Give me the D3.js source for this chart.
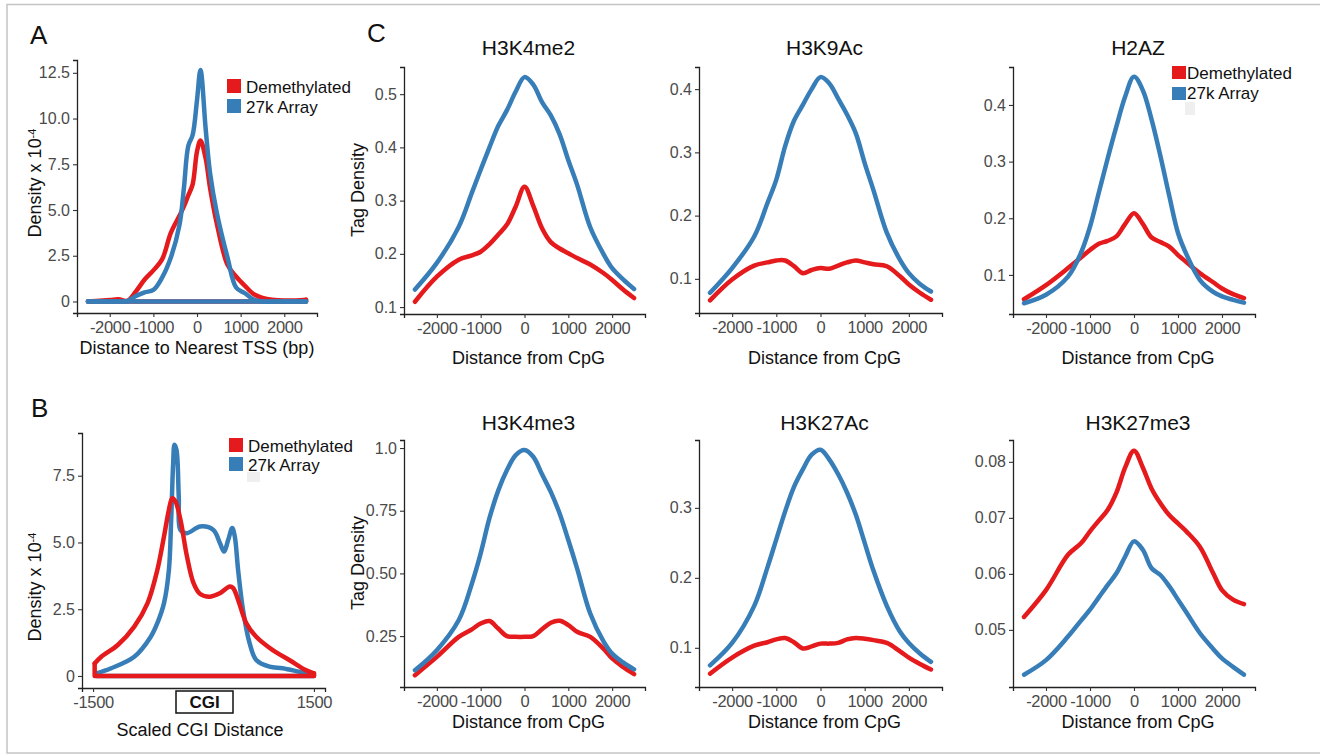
<!DOCTYPE html>
<html lang="en">
<head>
<meta charset="UTF-8">
<title>Density plots</title>
<script src="https://cdn.jsdelivr.net/npm/d3@7"></script>
<style>
  body { margin: 0; background: #fff; }
  svg text { font-family: "Liberation Sans", Arial, sans-serif; }
</style>
</head>
<body>
<svg id="fig" width="1320" height="755"></svg>
<script>
const red = "#e41a1c", blue = "#377eb8";
const seriesNames = ["Demethylated", "27k Array"];

// panel A - distance to nearest TSS
const tssDist   = [-2500,-2000,-1800,-1600,-1400,-1200,-1000,-800,-600,-400,-300,-200,-100,0,80,200,300,450,700,900,1100,1300,1500,2000,2500];
const tssDemeth = [0,0.08,0.12,0.03,0.55,1.2,1.7,2.3,3.75,4.7,5.2,5.8,6.4,8.2,8.8,7.8,6.2,4.3,2.0,1.35,0.85,0.4,0.2,0.05,0.1];
const tss27k    = [0,0,0,0.02,0.3,0.5,0.63,1.3,2.4,4.2,6.2,8.5,9.1,11.0,12.65,9.4,7.0,4.9,2.4,0.75,0.45,0.1,0,0,0];
const tssTicksY = [0,2.5,5,7.5,10,12.5];
const tssLabelsY = ["0","2.5","5.0","7.5","10.0","12.5"];

// panel B - scaled CGI distance
const cgiDist27k = [-1455,-1254,-940,-716,-627,-537,-470,-439,-412,-394,-367,-336,-313,-224,-45,134,224,278,336,390,425,470,537,627,716,896,1075,1299,1500];
const cgi27k     = [0.1,0.29,0.72,1.47,1.98,2.72,3.97,5.85,7.97,8.66,8.47,6.72,5.47,5.35,5.6,5.47,4.97,4.66,5.1,5.54,5.22,3.97,2.47,1.22,0.6,0.35,0.29,0.16,0.04];
const cgiDistDemeth = [-1478,-1388,-1164,-940,-761,-627,-537,-470,-425,-381,-313,-224,-134,-45,90,224,358,403,470,582,716,940,1164,1388,1500];
const cgiDemeth     = [0.47,0.72,1.16,1.85,2.72,3.97,5.22,6.22,6.66,6.54,5.85,4.47,3.47,3.07,2.97,3.1,3.35,3.29,2.85,1.97,1.47,0.97,0.6,0.22,0.1];
const cgiTicksY = [0,2.5,5,7.5];
const cgiLabelsY = ["0","2.5","5.0","7.5"];
const cgiTicksX = [-1500,1500];

// panel C - tag density around CpG
const cpgDist = [-2500,-2000,-1500,-1200,-1000,-800,-600,-400,-200,0,200,400,600,800,1000,1200,1500,1800,2000,2250,2500];
const cpgTicksX = [-2000,-1000,0,1000,2000];
const h3k4me2Demeth = [.11,.157,.189,.197,.204,.218,.236,.255,.289,.326,.29,.248,.222,.21,.201,.192,.18,.164,.151,.133,.117];
const h3k4me2Array  = [.133,.183,.251,.315,.358,.40,.44,.47,.505,.532,.518,.485,.46,.425,.376,.33,.25,.20,.173,.152,.134];
const h3k9acDemeth  = [.066,.099,.121,.126,.129,.129,.12,.109,.114,.117,.116,.121,.126,.129,.126,.123,.12,.104,.091,.078,.067];
const h3k9acArray   = [.078,.117,.167,.22,.257,.31,.35,.375,.40,.419,.409,.385,.36,.33,.283,.24,.173,.13,.109,.092,.08];
const h2azDemeth    = [.057,.082,.112,.131,.144,.155,.16,.168,.19,.209,.19,.166,.158,.15,.135,.122,.103,.087,.076,.066,.059];
const h2azArray     = [.05,.065,.097,.14,.185,.245,.305,.362,.415,.45,.426,.374,.31,.24,.174,.135,.091,.07,.062,.056,.051];
const h3k4me3Demeth = [.094,.167,.247,.277,.30,.31,.28,.25,.247,.247,.25,.277,.303,.311,.294,.267,.247,.20,.161,.127,.098];
const h3k4me3Array  = [.114,.194,.314,.46,.58,.72,.83,.912,.972,.992,.965,.895,.825,.74,.633,.52,.34,.23,.18,.145,.117];
const h3k27acDemeth = [.063,.086,.103,.108,.112,.114,.108,.099,.102,.106,.106,.107,.112,.114,.113,.111,.107,.095,.086,.077,.069];
const h3k27acArray  = [.075,.107,.16,.215,.255,.295,.33,.355,.376,.383,.369,.348,.322,.29,.25,.21,.16,.123,.107,.092,.08];
const h3k27me3Demeth = [.0523,.0571,.0634,.0655,.0676,.0695,.0714,.0745,.079,.082,.079,.0752,.0726,.0705,.069,.0675,.0648,.0601,.0571,.0554,.0546];
const h3k27me3Array  = [.042,.0446,.0488,.0517,.0536,.0558,.058,.0601,.0631,.0658,.0643,.061,.0598,.0578,.0554,.053,.0494,.0466,.0449,.0434,.042];

const svg = d3.select("#fig");

// grey frame round the figure
svg.append("rect").attr("x", 7).attr("y", 4.5).attr("width", 1330).attr("height", 748.5)
   .attr("fill", "none").attr("stroke", "#c4c4c4").attr("stroke-width", 1.5);

function zip(xs, ys) { return xs.map((x, i) => [x, ys[i]]); }

function makeAxes(p) {
  const x = d3.scaleLinear().domain(p.xDomain).range([p.left, p.right]);
  const y = d3.scaleLinear().domain(p.yDomain).range([p.bottom, p.top]);
  const fmt = (labels, ticks) => (d) => labels[ticks.indexOf(d)];

  const gx = svg.append("g").attr("transform", `translate(0,${p.bottom})`)
    .call(d3.axisBottom(x).tickValues(p.xTicks).tickSizeOuter(0).tickSize(4).tickPadding(4)
      .tickFormat(d => String(d)));   // plain hyphen, like the original
  const gy = svg.append("g").attr("transform", `translate(${p.left},0)`)
    .call(d3.axisLeft(y).tickValues(p.yTicks).tickSizeOuter(0).tickSize(4).tickPadding(3)
      .tickFormat(fmt(p.yLabels, p.yTicks)));

  [gx, gy].forEach(g => {
    g.attr("font-family", null).attr("font-size", null);
    g.select(".domain").attr("stroke", "#222").attr("stroke-width", 1.3);
    g.selectAll(".tick line").attr("stroke", "#333").attr("stroke-width", 1.1);
    g.selectAll(".tick text").attr("fill", "#4a4a4a").style("font-size", "16px");
  });
  gx.selectAll(".tick text").style("font-size", "16.5px").style("letter-spacing", "-0.3px");
  return { x, y };
}

const curve = d3.line().curve(d3.curveCatmullRom.alpha(0.5));

function drawCurve(s, pts, color, closed) {
  const xy = pts.map(d => [s.x(d[0]), s.y(d[1])]);
  svg.append("path").attr("d", curve(xy)).attr("fill", "none")
     .attr("stroke", color).attr("stroke-width", 4.5).attr("stroke-linejoin", "round").attr("stroke-linecap", "round");
  if (closed) {
    const a = pts[0], b = pts[pts.length - 1];
    const base = [[a[0], a[1]], [a[0], 0], [b[0], 0], [b[0], b[1]]].map(d => [s.x(d[0]), s.y(d[1])]);
    svg.append("path").attr("d", d3.line()(base)).attr("fill", "none")
       .attr("stroke", color).attr("stroke-width", 4.5).attr("stroke-linejoin", "round").attr("stroke-linecap", "round");
  }
}

function legend(x, y, textX, rowGap) {
  [red, blue].forEach((c, i) => {
    svg.append("rect").attr("x", x).attr("y", y + i * rowGap).attr("width", 14).attr("height", 14).attr("fill", c);
    svg.append("text").attr("x", textX).attr("y", y + i * rowGap + 13.5)
       .style("font-size", "17px").attr("fill", "#111").text(seriesNames[i]);
  });
}

function yTitle(x, y, sup) {
  const t = svg.append("text").attr("transform", `translate(${x},${y}) rotate(-90)`)
     .attr("text-anchor", "middle").style("font-size", "18px").attr("fill", "#111");
  if (sup) {
    t.append("tspan").text("Density x 10");
    t.append("tspan").attr("dy", "-0.5em").style("font-size", "11px").text("-4");
  } else {
    t.text("Tag Density");
  }
}

function label(x, y, txt, size, anchor, extra) {
  const t = svg.append("text").attr("x", x).attr("y", y).attr("text-anchor", anchor || "middle")
     .style("font-size", size + "px").attr("fill", "#111").text(txt);
  if (extra) extra(t);
  return t;
}

// ---------- panel A
const sA = makeAxes({ left: 77, right: 317, top: 60, bottom: 313, xDomain: [-2750, 2750], yDomain: [-0.63, 13.2],
  xTicks: cpgTicksX, yTicks: tssTicksY, yLabels: tssLabelsY });
drawCurve(sA, zip(tssDist, tssDemeth), red, true);
drawCurve(sA, zip(tssDist, tss27k), blue, true);
legend(227, 79, 246, 20);
label(30, 44, "A", 26, "start");
yTitle(41, 183, true);
label(197, 354, "Distance to Nearest TSS (bp)", 18);

// ---------- panel B
const sB = makeAxes({ left: 82, right: 325, top: 433, bottom: 688, xDomain: [-1650, 1650], yDomain: [-0.45, 9.1],
  xTicks: cgiTicksX, yTicks: cgiTicksY, yLabels: cgiLabelsY });
drawCurve(sB, zip(cgiDist27k, cgi27k), blue, true);
drawCurve(sB, zip(cgiDistDemeth, cgiDemeth), red, true);
legend(229, 438, 248, 19);
svg.append("rect").attr("x", 247).attr("y", 472).attr("width", 13).attr("height", 10).attr("fill", "#efefef");
svg.append("rect").attr("x", 176).attr("y", 691).attr("width", 57).attr("height", 22)
   .attr("fill", "#fff").attr("stroke", "#111").attr("stroke-width", 1.5);
label(204.5, 708, "CGI", 17, "middle", t => t.style("font-weight", "bold"));
label(31, 417, "B", 26, "start");
yTitle(41, 587, true);
label(200, 736, "Scaled CGI Distance", 18);

// ---------- panel C
const panelsC = [
  { title: "H3K4me2", left: 404, right: 645, top: 67, bottom: 314, yDomain: [0.087, 0.551], yTicks: [.1,.2,.3,.4,.5], fmt: ".1f",
    demeth: h3k4me2Demeth, array: h3k4me2Array, titleY: 55, xTitleY: 364 },
  { title: "H3K9Ac", left: 699, right: 942, top: 67, bottom: 313, yDomain: [0.046, 0.435], yTicks: [.1,.2,.3,.4], fmt: ".1f",
    demeth: h3k9acDemeth, array: h3k9acArray, titleY: 55, xTitleY: 364 },
  { title: "H2AZ", left: 1013, right: 1255, top: 67, bottom: 314, yDomain: [0.031, 0.467], yTicks: [.1,.2,.3,.4], fmt: ".1f",
    demeth: h2azDemeth, array: h2azArray, titleY: 55, xTitleY: 364 },
  { title: "H3K4me3", left: 404, right: 645, top: 440, bottom: 687, yDomain: [0.047, 1.032], yTicks: [.25,.5,.75,1],
    yLabels: ["0.25","0.50","0.75","1.0"], demeth: h3k4me3Demeth, array: h3k4me3Array, titleY: 430, xTitleY: 728 },
  { title: "H3K27Ac", left: 699, right: 942, top: 440, bottom: 687, yDomain: [0.044, 0.397], yTicks: [.1,.2,.3], fmt: ".1f",
    demeth: h3k27acDemeth, array: h3k27acArray, titleY: 430, xTitleY: 728 },
  { title: "H3K27me3", left: 1013, right: 1255, top: 440, bottom: 687, yDomain: [0.0398, 0.0839], yTicks: [.05,.06,.07,.08], fmt: ".2f",
    demeth: h3k27me3Demeth, array: h3k27me3Array, titleY: 430, xTitleY: 728 }
];

panelsC.forEach(p => {
  const labels = p.yLabels || p.yTicks.map(d3.format(p.fmt));
  const s = makeAxes({ left: p.left, right: p.right, top: p.top, bottom: p.bottom, xDomain: [-2750, 2750], yDomain: p.yDomain,
    xTicks: cpgTicksX, yTicks: p.yTicks, yLabels: labels });
  drawCurve(s, zip(cpgDist, p.demeth), red, false);
  drawCurve(s, zip(cpgDist, p.array), blue, false);
  const cx = (p.left + p.right) / 2 + 4;
  label(cx, p.titleY, p.title, 21);
  label(cx, p.xTitleY, "Distance from CpG", 18);
});

yTitle(364, 190, false);
yTitle(364, 563, false);
label(367, 42, "C", 26, "start");

// legend inside H2AZ
[red, blue].forEach((c, i) => {
  svg.append("rect").attr("x", 1172).attr("y", 66 + i * 21).attr("width", 14).attr("height", 13).attr("fill", c);
  svg.append("text").attr("x", 1187).attr("y", 79 + i * 20).style("font-size", "17px").attr("fill", "#111").text(seriesNames[i]);
});
svg.append("rect").attr("x", 1185).attr("y", 102).attr("width", 10).attr("height", 13).attr("fill", "#efefef");
</script>
</body>
</html>
